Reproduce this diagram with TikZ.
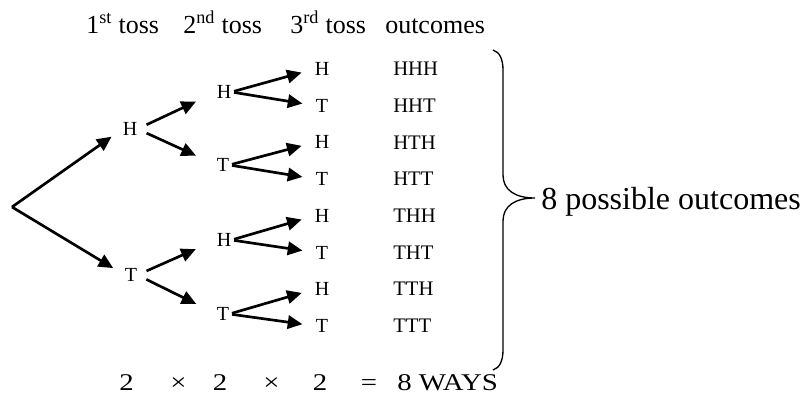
\documentclass[tikz,border=0pt]{standalone}
\usepackage{fontspec}
\setmainfont{Liberation Serif}
\newfontfamily\widefont[FakeStretch=1.2]{Liberation Serif}
\usetikzlibrary{arrows.meta}
\tikzset{
  lbl/.style={inner sep=0pt, font=\fontsize{15}{18}\selectfont},
  outc/.style={anchor=west, inner sep=0pt, font=\fontsize{15.5}{18}\selectfont},
  head/.style={anchor=base west, inner sep=0pt, font=\fontsize{19.5}{23}\selectfont},
  prod/.style={anchor=base, inner sep=0pt, font=\widefont\fontsize{18}{22}\selectfont},
  branch/.style={-{Triangle[length=11pt,width=10pt]}, line width=2pt},
  brace/.style={line width=1pt}
}

\begin{document}
\begin{tikzpicture}[x=0.75pt, y=-0.75pt]
  \useasboundingbox (0,0) rectangle (808,402);

  % column headings
  \node[head] (toss1) at (86,34) {1\textsuperscript{st} toss};
  \node[head] (toss2) at (183,34) {2\textsuperscript{nd} toss};
  \node[head] (toss3) at (290,34) {3\textsuperscript{rd} toss};
  \node[head] (outhead) at (385,34) {outcomes};

  % tree
  \coordinate (root) at (12,207);
  \node[lbl] (h) at (130,129) {H};
  \node[lbl] (t) at (131,275) {T};
  \node[lbl] (hh) at (224,92) {H};
  \node[lbl] (ht) at (223,165) {T};
  \node[lbl] (th) at (224,240) {H};
  \node[lbl] (tt) at (223,314) {T};
  \foreach \n/\l/\o/\y in {hhh/H/HHH/69, hht/T/HHT/105.7, hth/H/HTH/142.4, htt/T/HTT/179.1,
                           thh/H/THH/215.8, tht/T/THT/252.5, tth/H/TTH/289.2, ttt/T/TTT/326}{
    \node[lbl] (\n) at (322,\y) {\l};
    \node[outc] (o\n) at (393,\y) {\o};
  }

  \draw[branch, shorten >=10pt] (root) -- (h.west);
  \draw[branch, shorten >=10pt] (root) -- (t.west);
  \foreach \a/\b in {h/hh, h/ht, t/th, t/tt}
    \draw[branch, shorten <=7.5pt, shorten >=17pt] (\a.east) -- (\b.west);
  \foreach \a/\b in {hh/hhh, hh/hht, ht/hth, ht/htt, th/thh, th/tht, tt/tth, tt/ttt}
    \draw[branch, shorten <=2pt, shorten >=10pt] (\a.east) -- (\b.west);

  % brace and count
  \draw[brace] (493,50) .. controls (500,52) and (503,60) .. (503,70) -- (503,175)
    .. controls (503,190) and (515,198) .. (535,198)
    .. controls (515,198) and (503,206) .. (503,221) -- (503,350)
    .. controls (503,360) and (500,368) .. (493,370);
  \node[anchor=base west, inner sep=0pt, font=\fontsize{24}{28}\selectfont] (total) at (541,210) {8 possible outcomes};

  % product line
  \foreach \x/\s [count=\i] in {126.5/2, 178.5/×, 220/2, 271.5/×, 320/2, 369/=}
    \node[prod] (p\i) at (\x,391) {\s};
  \node[prod, anchor=base west] (ways) at (397,391) {8 WAYS};
\end{tikzpicture}
\end{document}
